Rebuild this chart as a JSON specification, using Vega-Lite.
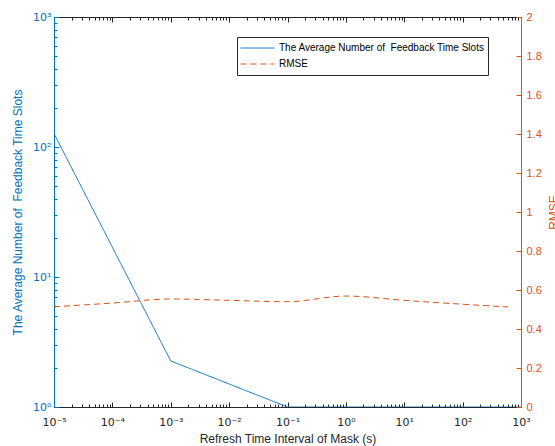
{
  "$schema": "https://vega.github.io/schema/vega-lite/v6.json",
  "width": 467,
  "height": 390,
  "autosize": {"type": "none"},
  "padding": {"left": 54, "top": 17, "right": 34, "bottom": 39},
  "background": "white",
  "config": {
    "view": {"stroke": null},
    "font": "Liberation Sans",
    "axis": {"grid": false, "labelFont": "Liberation Sans", "titleFont": "Liberation Sans", "titleFontWeight": "normal", "labelFlush": false, "labelOverlap": false}
  },
  "datasets": {
    "avg": [
      {"x": 0.00001, "value": 127, "series": "The Average Number of \u00a0Feedback Time Slots"},
      {"x": 0.001, "value": 2.26, "series": "The Average Number of \u00a0Feedback Time Slots"},
      {"x": 0.1, "value": 1, "series": "The Average Number of \u00a0Feedback Time Slots"},
      {"x": 1, "value": 1, "series": "The Average Number of \u00a0Feedback Time Slots"},
      {"x": 10, "value": 1, "series": "The Average Number of \u00a0Feedback Time Slots"},
      {"x": 100, "value": 1, "series": "The Average Number of \u00a0Feedback Time Slots"},
      {"x": 1000, "value": 1, "series": "The Average Number of \u00a0Feedback Time Slots"}
    ],
    "rmse": [
      {"x": 0.00001, "value": 0.514, "series": "RMSE"},
      {"x": 0.0001, "value": 0.533, "series": "RMSE"},
      {"x": 0.001, "value": 0.554, "series": "RMSE"},
      {"x": 0.01, "value": 0.547, "series": "RMSE"},
      {"x": 0.1, "value": 0.540, "series": "RMSE"},
      {"x": 1, "value": 0.569, "series": "RMSE"},
      {"x": 10, "value": 0.547, "series": "RMSE"},
      {"x": 100, "value": 0.527, "series": "RMSE"},
      {"x": 600, "value": 0.513, "series": "RMSE"}
    ]
  },
  "layer": [
    {
      "data": {"name": "avg"},
      "mark": {"type": "point", "opacity": 0},
      "encoding": {
        "x": {"field": "x", "type": "quantitative", "scale": {"type": "log", "domain": [0.00001, 1000]},
          "axis": {"orient": "bottom", "values": [0.00002,0.00003,0.00004,0.00005,0.00006,0.00007,0.00008,0.00009,0.0002,0.0003,0.0004,0.0005,0.0006,0.0007,0.0008,0.0009,0.002,0.003,0.004,0.005,0.006,0.007,0.008,0.009,0.02,0.03,0.04,0.05,0.06,0.07,0.08,0.09,0.2,0.3,0.4,0.5,0.6,0.7,0.8,0.9,2,3,4,5,6,7,8,9,20,30,40,50,60,70,80,90,200,300,400,500,600,700,800,900],
            "labels": false, "domain": false, "tickSize": -3, "tickColor": "#262626", "title": null}},
        "y": {"field": "value", "type": "quantitative", "scale": {"type": "log", "domain": [1, 1000]},
          "axis": {"orient": "left", "values": [2,3,4,5,6,7,8,9,20,30,40,50,60,70,80,90,200,300,400,500,600,700,800,900],
            "labels": false, "domain": false, "tickSize": -3, "tickColor": "#0072BD", "title": null}}
      }
    },
    {
      "data": {"name": "rmse"},
      "mark": {"type": "point", "opacity": 0},
      "encoding": {
        "x": {"field": "x", "type": "quantitative", "scale": {"type": "log", "domain": [0.00001, 1000]},
          "axis": {"orient": "top", "values": [0.00002,0.00003,0.00004,0.00005,0.00006,0.00007,0.00008,0.00009,0.0002,0.0003,0.0004,0.0005,0.0006,0.0007,0.0008,0.0009,0.002,0.003,0.004,0.005,0.006,0.007,0.008,0.009,0.02,0.03,0.04,0.05,0.06,0.07,0.08,0.09,0.2,0.3,0.4,0.5,0.6,0.7,0.8,0.9,2,3,4,5,6,7,8,9,20,30,40,50,60,70,80,90,200,300,400,500,600,700,800,900],
            "labels": false, "domain": false, "tickSize": -3, "tickColor": "#262626", "title": null}},
        "y": {"field": "value", "type": "quantitative", "scale": {"domain": [0, 2]}, "axis": null}
      }
    },
    {
      "data": {"name": "avg"},
      "mark": {"type": "line", "strokeWidth": 1, "clip": true},
      "encoding": {
        "x": {"field": "x", "type": "quantitative", "scale": {"type": "log", "domain": [0.00001, 1000]},
          "axis": {"orient": "bottom", "values": [0.00001, 0.0001, 0.001, 0.01, 0.1, 1, 10, 100, 1000],
            "labelExpr": "'10' + ['⁻⁵','⁻⁴','⁻³','⁻²','⁻¹','⁰','¹','²','³'][round(log(datum.value)/LN10)+5]",
            "tickSize": -5, "labelPadding": 14, "labelFont": "DejaVu Sans", "labelFontSize": 11, "labelColor": "#262626", "domainColor": "#262626", "tickColor": "#262626",
            "title": "Refresh Time Interval of Mask (s)", "titleFontSize": 12, "titleColor": "#262626", "titlePadding": 6}},
        "y": {"field": "value", "type": "quantitative", "scale": {"type": "log", "domain": [1, 1000]},
          "axis": {"orient": "left", "values": [1, 10, 100, 1000],
            "labelExpr": "'10' + ['⁰','¹','²','³'][round(log(datum.value)/LN10)]",
            "tickSize": -5, "labelPadding": 8, "labelFont": "DejaVu Sans", "labelFontSize": 11, "labelColor": "#0072BD", "domainColor": "#0072BD", "tickColor": "#0072BD",
            "title": "The Average Number of \u00a0Feedback Time Slots", "titleFontSize": 12, "titleColor": "#0072BD", "titlePadding": 8}},
        "color": {"field": "series", "type": "nominal",
          "scale": {"domain": ["The Average Number of \u00a0Feedback Time Slots", "RMSE"], "range": ["#0072BD", "#D95319"]},
          "legend": {"orient": "none", "legendX": 183, "legendY": 20, "title": null, "symbolType": "stroke", "symbolSize": 1156, "symbolStrokeWidth": 1, "clipHeight": 16, "rowPadding": 0, "labelFontSize": 10, "labelLimit": 400, "labelFont": "Liberation Sans", "labelColor": "#000000", "labelOffset": 4, "strokeColor": "#262626", "fillColor": "white", "padding": 3}},
        "strokeDash": {"field": "series", "type": "nominal",
          "scale": {"domain": ["The Average Number of \u00a0Feedback Time Slots", "RMSE"], "range": [[1, 0], [6, 4]]},
          "legend": {"orient": "none", "legendX": 183, "legendY": 20, "title": null, "symbolType": "stroke", "symbolSize": 1156, "symbolStrokeWidth": 1, "clipHeight": 16, "rowPadding": 0, "labelFontSize": 10, "labelLimit": 400, "labelFont": "Liberation Sans", "labelColor": "#000000", "labelOffset": 4, "strokeColor": "#262626", "fillColor": "white", "padding": 3}}
      }
    },
    {
      "data": {"name": "rmse"},
      "mark": {"type": "line", "strokeWidth": 1, "interpolate": "monotone", "clip": true},
      "encoding": {
        "x": {"field": "x", "type": "quantitative", "scale": {"type": "log", "domain": [0.00001, 1000]},
          "axis": {"orient": "top", "values": [0.00001, 0.0001, 0.001, 0.01, 0.1, 1, 10, 100, 1000],
            "labels": false, "tickSize": -5, "domainColor": "#262626", "tickColor": "#262626", "title": null}},
        "y": {"field": "value", "type": "quantitative", "scale": {"domain": [0, 2]},
          "axis": {"orient": "right", "values": [0, 0.2, 0.4, 0.6, 0.8, 1, 1.2, 1.4, 1.6, 1.8, 2],
            "labelExpr": "format(datum.value, '~g')",
            "tickSize": -5, "labelPadding": 10, "labelFontSize": 11, "labelColor": "#D95319", "domainColor": "#D95319", "tickColor": "#D95319",
            "title": "RMSE", "titleFontSize": 12, "titleColor": "#D95319", "titleAngle": 270, "titleX": 36, "titleY": 195, "titleAlign": "center", "titleBaseline": "alphabetic"}},
        "color": {"field": "series", "type": "nominal"},
        "strokeDash": {"field": "series", "type": "nominal"}
      }
    }
  ],
  "resolve": {"scale": {"y": "independent"}, "axis": {"x": "independent", "y": "independent"}}
}
